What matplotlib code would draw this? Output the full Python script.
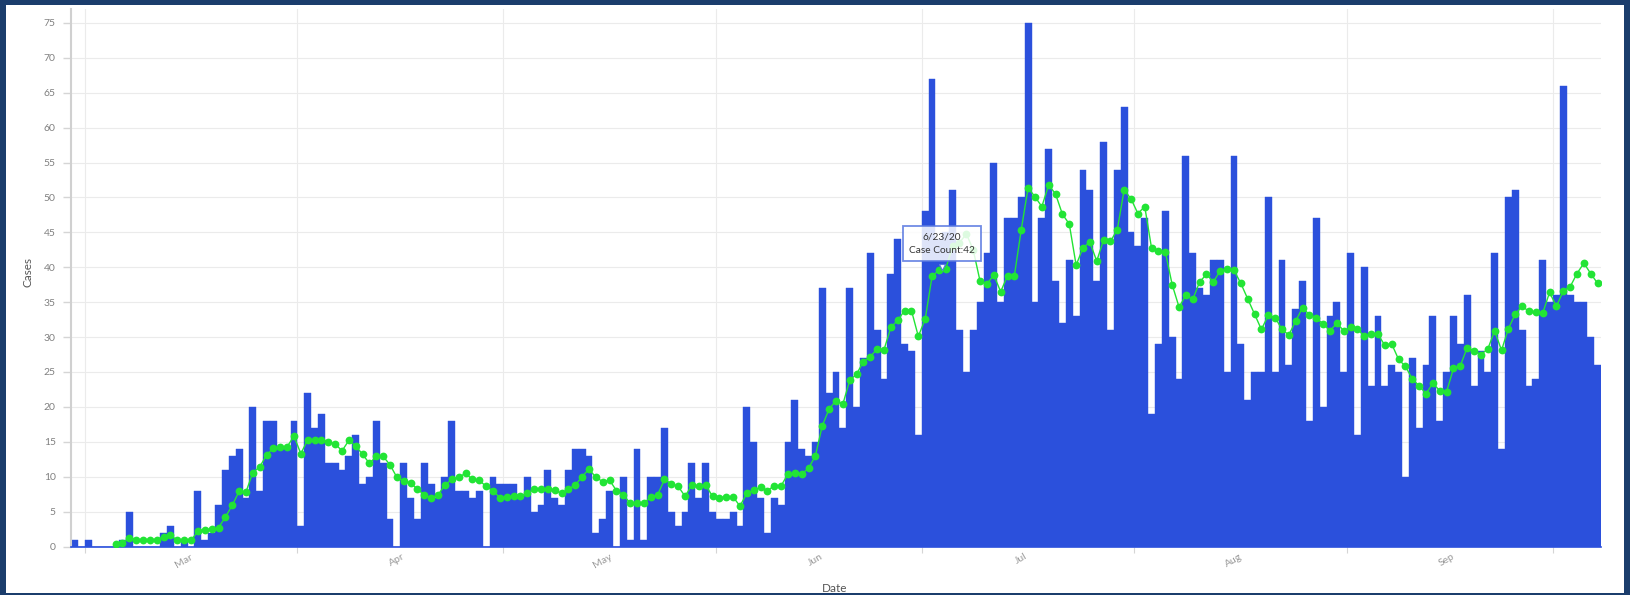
import matplotlib
matplotlib.use("Agg")
from matplotlib import pyplot as plt
import matplotlib.dates as mdates
import matplotlib.patches as patches
import pandas as pd

# Daily case counts, first bar is 2/28/2020
start_date = "2020-02-28"
cases = [
    1, 0, 1, 0, 0, 0, 0, 1, 5, 0,
    0, 0, 0, 2, 3, 0, 1, 0, 8, 1,
    2, 6, 11, 13, 14, 7, 20, 8, 18, 18,
    14, 14, 18, 3, 22, 17, 19, 12, 12, 11,
    13, 16, 9, 10, 18, 12, 4, 0, 12, 7,
    4, 12, 9, 7, 10, 18, 8, 8, 7, 8,
    0, 10, 9, 9, 9, 7, 10, 5, 6, 11,
    7, 6, 11, 14, 14, 13, 2, 4, 8, 0,
    10, 1, 14, 1, 10, 10, 17, 5, 3, 5,
    12, 7, 12, 5, 4, 4, 5, 3, 20, 15,
    7, 2, 7, 6, 15, 21, 14, 13, 15, 37,
    22, 25, 17, 37, 20, 27, 42, 31, 24, 39,
    44, 29, 28, 16, 48, 67, 44, 45, 51, 31,
    25, 31, 35, 42, 55, 35, 47, 47, 50, 75,
    35, 47, 57, 38, 32, 41, 33, 54, 51, 38,
    58, 31, 54, 63, 45, 43, 47, 19, 29, 48,
    30, 24, 56, 42, 37, 36, 41, 41, 25, 56,
    29, 21, 25, 25, 50, 25, 41, 26, 34, 38,
    18, 47, 20, 33, 35, 25, 42, 16, 40, 23,
    33, 23, 26, 25, 10, 27, 17, 26, 33, 18,
    25, 33, 29, 36, 23, 28, 25, 42, 14, 50,
    51, 31, 23, 24, 41, 35, 36, 66, 36, 35,
    35, 30, 26,
]

# 7 day average, first point is 3/5/2020
avg_start = "2020-03-05"
moving_avg = [
    0.4, 0.5, 1.2, 1.0,
    1.0, 1.0, 1.0, 1.4, 1.6, 0.9, 0.9, 0.9, 2.2, 2.4,
    2.5, 2.7, 4.2, 5.9, 7.9, 7.8, 10.6, 11.4, 13.1, 14.1,
    14.3, 14.3, 15.8, 13.3, 15.3, 15.2, 15.3, 15.0, 14.7, 13.7,
    15.2, 14.4, 13.2, 11.9, 12.9, 12.9, 11.7, 9.9, 9.4, 9.1,
    8.2, 7.4, 6.9, 7.4, 8.8, 9.6, 9.9, 10.5, 9.6, 9.5,
    8.6, 8.0, 7.0, 7.1, 7.2, 7.2, 7.6, 8.2, 8.2, 8.3,
    8.1, 7.6, 8.2, 8.8, 10.0, 11.1, 9.9, 9.3, 9.5, 8.0,
    7.4, 6.2, 6.3, 6.2, 7.1, 7.4, 9.6, 9.0, 8.6, 7.2,
    8.8, 8.6, 8.8, 7.2, 7.0, 7.1, 7.1, 5.8, 7.6, 8.1,
    8.5, 8.0, 8.7, 8.7, 10.4, 10.5, 10.4, 11.2, 13.0, 17.3,
    19.7, 20.9, 20.4, 23.8, 24.7, 26.5, 27.2, 28.3, 28.2, 31.4,
    32.4, 33.8, 33.8, 30.1, 32.6, 38.7, 39.6, 39.8, 43.0, 43.5,
    44.8, 42.5, 38.0, 37.6, 38.9, 36.5, 38.8, 38.8, 45.4, 51.4,
    50.1, 48.7, 51.8, 50.5, 47.6, 46.2, 40.3, 42.8, 43.6, 40.9,
    43.9, 43.7, 45.4, 51.1, 49.8, 47.7, 48.7, 42.7, 42.4, 42.2,
    37.5, 34.3, 36.0, 35.4, 37.9, 39.0, 37.9, 39.5, 39.7, 39.6,
    37.7, 35.5, 33.3, 31.1, 33.1, 32.8, 31.1, 30.3, 32.3, 34.2,
    33.2, 32.7, 31.9, 30.9, 32.0, 30.9, 31.4, 31.2, 30.1, 30.4,
    30.4, 28.8, 29.0, 26.8, 25.8, 24.0, 23.0, 21.9, 23.4, 22.3,
    22.2, 25.5, 25.9, 28.5, 28.0, 27.5, 28.3, 30.9, 28.1, 31.2,
    33.3, 34.4, 33.7, 33.6, 33.4, 36.4, 34.4, 36.6, 37.2, 39.1,
    40.6, 39.1, 37.7,
]

month_names = ["Mar", "Apr", "May", "Jun", "Jul", "Aug", "Sep"]
month_numbers = [3, 4, 5, 6, 7, 8, 9]

tooltip_date = "6/23/20"
tooltip_count = 42

bar_color = "#2b50dc"
line_color = "#22e435"
font = "Lato"

# Figure with navy frame and white panel
fig = plt.figure(figsize=(16.31, 5.95), dpi=100)
fig.patch.set_facecolor("#1b3d6c")
panel = patches.Rectangle((6 / 1631, 2.5 / 595), 1618 / 1631, 588 / 595,
                          transform=fig.transFigure, facecolor="white",
                          edgecolor="none", zorder=-10)
fig.patches.append(panel)

ax = fig.add_axes([71 / 1631, 48.5 / 595, 1530 / 1631, 537.5 / 595])
ax.set_facecolor("none")
ax.set_zorder(1)

# Bars, one per day
days = pd.date_range(start_date, periods=len(cases))
x_days = mdates.date2num(days)
ax.bar(x_days, cases, width=1.0, align="edge", color=bar_color,
       edgecolor=bar_color, linewidth=0.3, zorder=2)

# Moving average line
avg_days = pd.date_range(avg_start, periods=len(moving_avg))
x_avg = mdates.date2num(avg_days) + 0.5
ax.plot(x_avg, moving_avg, color=line_color, linewidth=1.0, marker="o",
        markersize=5.6, markeredgewidth=0, zorder=3)

# Axis limits
ax.set_xlim(x_days[0], x_days[-1] + 1)
ax.set_ylim(0, 77)

# Y axis
ax.set_yticks(range(0, 80, 5))
ax.tick_params(axis="y", length=6, width=1, color="#d5d5d5", pad=5,
               labelsize=7.5, labelcolor="#808080")
for label in ax.get_yticklabels():
    label.set_fontfamily(font)

# X axis: gridlines at month starts, labels at mid month
month_starts = [mdates.date2num(pd.Timestamp(2020, m, 1)) for m in month_numbers + [10]]
month_mids = [mdates.date2num(pd.Timestamp(2020, m, 15)) + 0.5 for m in month_numbers]
ax.set_xticks(month_starts)
ax.set_xticklabels([])
ax.set_xticks(month_mids, minor=True)
ax.set_xticklabels(month_names, minor=True, rotation=30, ha="center",
                   fontsize=7.5, color="#9a9a9a", fontfamily=font)
ax.tick_params(axis="x", which="major", length=4, color="#d5d5d5")
ax.tick_params(axis="x", which="minor", length=0, pad=4)

# Grid
ax.set_axisbelow(True)
ax.grid(True, which="major", color="#ebebeb", linewidth=0.8)

# Spines
ax.spines["top"].set_visible(False)
ax.spines["right"].set_visible(False)
ax.spines["left"].set_color("#d0d0d0")
ax.spines["left"].set_linewidth(1.5)
ax.spines["bottom"].set_color(bar_color)
ax.spines["bottom"].set_linewidth(1.2)

# Labels
ax.set_ylabel("Cases", fontsize=8.5, color="#555555", fontfamily=font)
ax.yaxis.set_label_coords(-0.0248, 0.51)
ax.set_xlabel("Date", fontsize=8.5, color="#555555", fontfamily=font)
ax.xaxis.set_label_coords(0.4993, -0.067)

# Tooltip
tip_x = x_days[0] + 126.95
ax.text(tip_x, 43.4, tooltip_date + "\nCase Count:" + str(tooltip_count),
        ha="center", va="center", fontsize=7.3, color="#333333",
        fontfamily=font, linespacing=1.7, zorder=6,
        bbox=dict(boxstyle="square,pad=0.6", facecolor="white", alpha=0.85,
                  edgecolor="#5877e0", linewidth=1.3))
ax.plot([tip_x], [40.0], marker="v", markersize=5, color="white",
        markeredgecolor="#5877e0", markeredgewidth=0.8, zorder=6)

fig.savefig("out.png", dpi=100, facecolor=fig.get_facecolor())
